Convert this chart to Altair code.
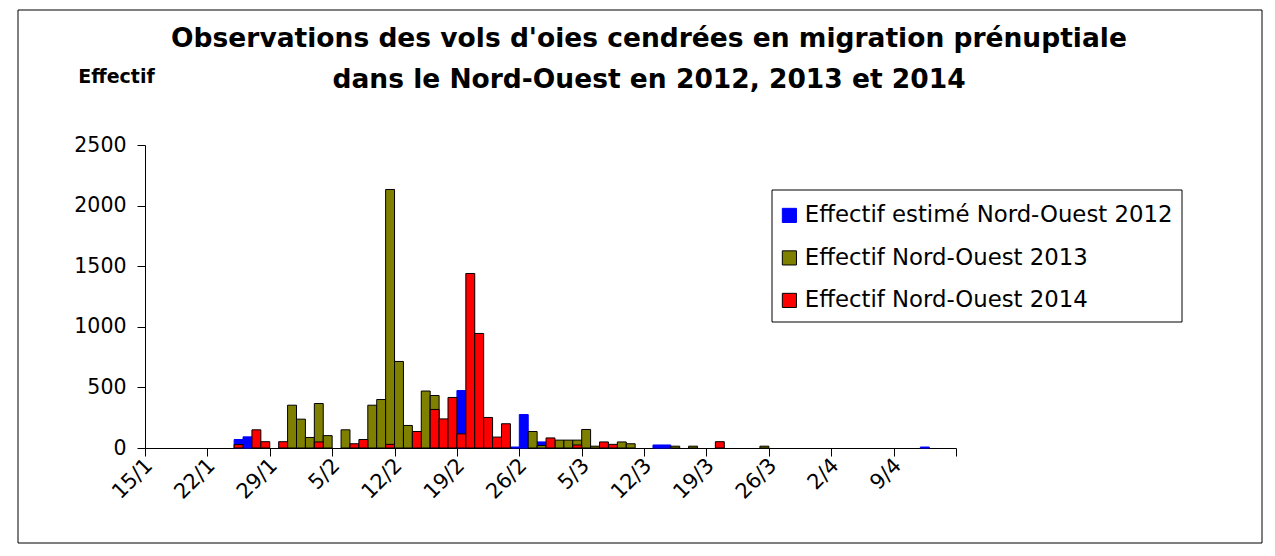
import datetime as dt
import altair as alt
import pandas as pd

# ---- data ----
tick_labels = ["15/1", "22/1", "29/1", "5/2", "12/2", "19/2", "26/2",
               "5/3", "12/3", "19/3", "26/3", "2/4", "9/4"]

title_lines = ["Observations des vols d'oies cendrées en migration prénuptiale",
               "dans le Nord-Ouest en 2012, 2013 et 2014"]

series_names = ["Effectif estimé Nord-Ouest 2012",
                "Effectif Nord-Ouest 2013",
                "Effectif Nord-Ouest 2014"]
fill_colors = ["#0000FF", "#808000", "#FF0000"]
stroke_colors = ["#0000FF", "#000000", "#000000"]

dates_2012 = ["25/1", "26/1", "19/2", "25/2", "26/2", "28/2", "13/3", "14/3", "12/4"]
values_2012 = [70, 92, 474, 8, 276, 50, 25, 25, 8]

dates_2013 = ["31/1", "1/2", "2/2", "3/2", "4/2", "6/2", "9/2", "10/2", "11/2",
              "12/2", "13/2", "15/2", "16/2", "27/2", "28/2", "2/3", "3/3",
              "4/3", "5/3", "6/3", "9/3", "10/3", "15/3", "17/3", "25/3"]
values_2013 = [353, 238, 87, 367, 102, 150, 353, 400, 2133,
               714, 186, 470, 433, 136, 20, 65, 65,
               65, 153, 15, 50, 35, 15, 15, 15]

dates_2014 = ["25/1", "27/1", "28/1", "30/1", "3/2", "7/2", "8/2", "11/2",
              "14/2", "16/2", "17/2", "18/2", "19/2", "20/2", "21/2", "22/2",
              "23/2", "24/2", "1/3", "4/3", "7/3", "8/3", "20/3"]
values_2014 = [28, 150, 52, 52, 50, 35, 70, 30,
               136, 318, 240, 417, 117, 1440, 945, 252,
               90, 200, 83, 25, 50, 30, 52]

first_day = dt.date(2014, 1, 15)
n_days = 91

rows = []
for k, (name, dates, vals) in enumerate(
        [(series_names[0], dates_2012, values_2012),
         (series_names[1], dates_2013, values_2013),
         (series_names[2], dates_2014, values_2014)]):
    for d, v in zip(dates, vals):
        day, month = (int(p) for p in d.split("/"))
        idx = (dt.date(2014, month, day) - first_day).days
        rows.append({"series": name, "k": k, "date": d,
                     "start": idx, "end": idx + 1, "value": v, "base": 0})
df = pd.DataFrame(rows).sort_values(["k", "start"]).reset_index(drop=True)

FONT = "DejaVu Sans"
label_js = "[" + ",".join("'" + t + "'" for t in tick_labels) + "]"

legend = alt.Legend(
    title=None, orient="none", legendX=633, legendY=59,
    direction="vertical", symbolType="square", symbolSize=200,
    symbolStrokeWidth=1, labelFont=FONT, labelFontSize=22.8,
    labelColor="black", labelLimit=600, labelOffset=4, rowPadding=18.5,
    padding=0,
)

bars = alt.Chart(df).mark_bar(strokeWidth=1).encode(
    x=alt.X("start:Q",
            scale=alt.Scale(domain=[0, n_days], nice=False, zero=False),
            axis=alt.Axis(values=list(range(0, n_days + 1, 7)),
                          labelExpr=label_js + "[datum.value / 7] || ''",
                          labelAngle=315, labelAlign="right",
                          labelBaseline="middle", labelOffset=4,
                          labelPadding=6, labelFont=FONT, labelFontSize=21,
                          labelColor="black", labelOverlap=False,
                          labelFlush=False, tickSize=8, tickColor="black",
                          domainColor="black", grid=False, title=None)),
    x2="end:Q",
    y=alt.Y("value:Q", stack=None,
            scale=alt.Scale(domain=[0, 2500], nice=False),
            axis=alt.Axis(values=[0, 500, 1000, 1500, 2000, 2500],
                          format="d",
                          title="Effectif", titleAngle=0, titleX=-29,
                          titleY=-69, titleAlign="center",
                          titleBaseline="middle", titleFont=FONT,
                          titleFontWeight="bold", titleFontSize=19,
                          titleColor="black", labelFont=FONT,
                          labelFontSize=20.5, labelColor="black",
                          labelPadding=11, tickSize=8, tickColor="black",
                          domainColor="black", grid=False)),
    y2="base:Q",
    color=alt.Color("series:N",
                    scale=alt.Scale(domain=series_names, range=fill_colors),
                    legend=legend),
    stroke=alt.Stroke("series:N",
                      scale=alt.Scale(domain=series_names, range=stroke_colors),
                      legend=legend),
    order=alt.Order("k:Q"),
)

frame = alt.Chart(alt.Data(values=[{}])).mark_rect(
    filled=False, stroke="black", strokeWidth=1
).encode(
    x=alt.value(-127), x2=alt.value(1117),
    y=alt.value(-135), y2=alt.value(398),
)

legend_box = alt.Chart(alt.Data(values=[{}])).mark_rect(
    fill="white", stroke="black", strokeWidth=1
).encode(
    x=alt.value(627), x2=alt.value(1037),
    y=alt.value(45), y2=alt.value(177),
)

title1 = alt.Chart(alt.Data(values=[{}])).mark_text(
    font=FONT, fontSize=26.5, fontWeight="bold", color="black",
    align="center", baseline="alphabetic"
).encode(x=alt.value(504), y=alt.value(-98), text=alt.value(title_lines[0]))

title2 = alt.Chart(alt.Data(values=[{}])).mark_text(
    font=FONT, fontSize=26.5, fontWeight="bold", color="black",
    align="center", baseline="alphabetic"
).encode(x=alt.value(504), y=alt.value(-57), text=alt.value(title_lines[1]))

chart = alt.layer(frame, legend_box, title1, title2, bars).properties(
    width=811, height=303,
    autosize=alt.AutoSizeParams(type="none"),
    padding={"left": 137, "top": 137, "right": 307, "bottom": 96},
    background="white",
).configure_view(stroke=None)

chart.save("out.html", embed_options={"renderer": "svg", "actions": False})
